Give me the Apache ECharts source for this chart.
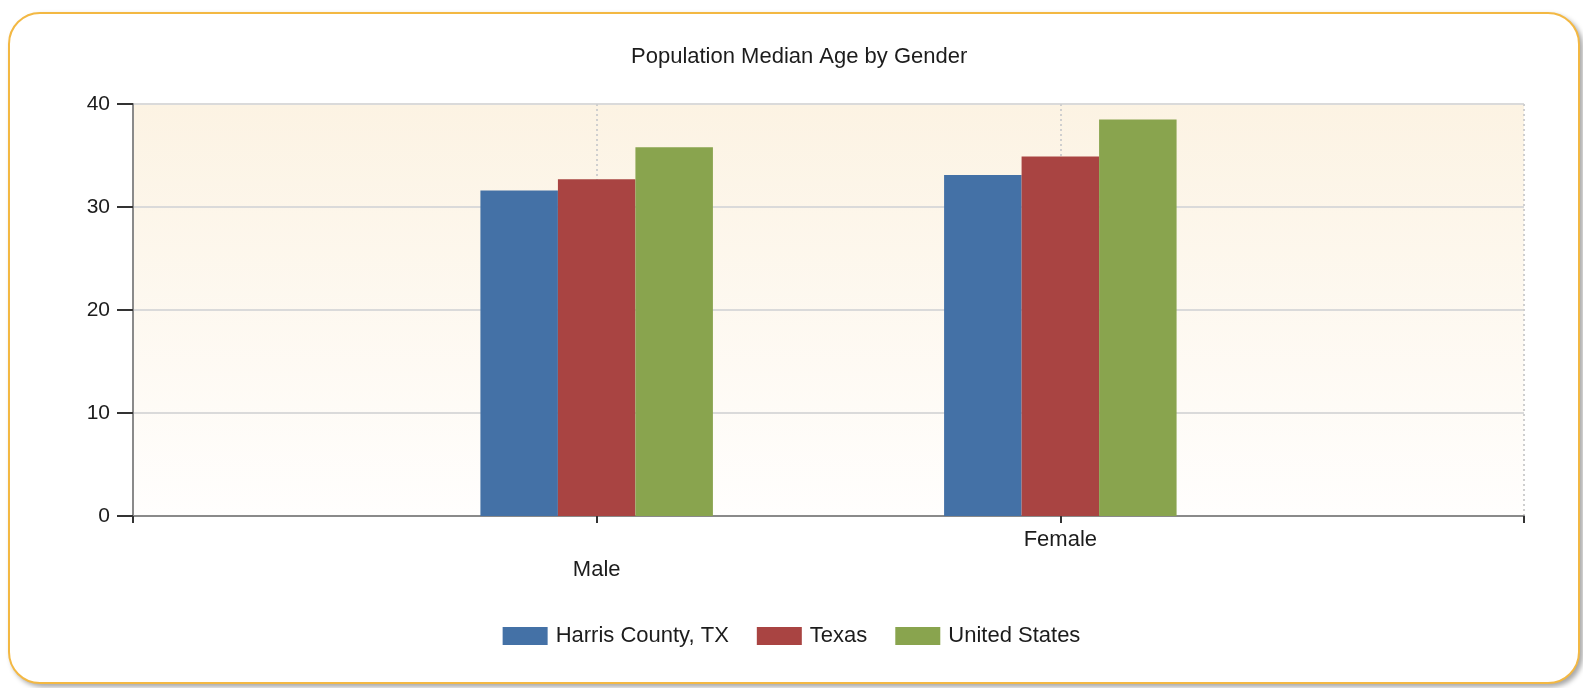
<!DOCTYPE html>
<html>
<head>
<meta charset="utf-8">
<title>Population Median Age by Gender</title>
<script src="https://cdn.jsdelivr.net/npm/echarts@6/dist/echarts.min.js"></script>
<style>
    html, body { margin: 0; padding: 0; background: #fff; }
    #card {
        position: absolute; left: 8px; top: 12px; width: 1568px; height: 668px;
        border: 2px solid #f3b843; border-radius: 32px; background: #fff;
        box-shadow: 3px 3px 5px rgba(0, 0, 0, 0.35);
    }
    #chart { position: absolute; left: 0; top: 0; width: 1583px; height: 688px; }
</style>
</head>
<body>
<div id="card"></div>
<div id="chart"></div>
<script>

// Chart data
// ------------------------------

var categories = ['Male', 'Female'];
var harrisCounty = [31.6, 33.1];
var texas = [32.7, 34.9];
var unitedStates = [35.8, 38.5];
var seriesNames = ['Harris County, TX', 'Texas', 'United States'];
var yTicks = [0, 10, 20, 30, 40];


// Setup chart
// ------------------------------

document.addEventListener('DOMContentLoaded', function() {

    var chart_element = document.getElementById('chart');
    var chart = echarts.init(chart_element, null, { renderer: 'canvas' });

    // Empty slots at both ends so the groups sit at 1/3 and 2/3 of the axis
    var axisData = [''].concat(categories, ['']);
    var pad = function(values) {
        return ['-'].concat(values, ['-']);
    };

    var textColor = '#1c1c1c';
    var fontFamily = '"Liberation Sans", Arial, sans-serif';

    var barSeries = function(name, values) {
        return {
            name: name,
            type: 'bar',
            data: pad(values),
            barWidth: 77.5,
            barGap: '0%'
        };
    };

    chart.setOption({
        animation: false,
        color: ['#4471a6', '#a94442', '#89a44e'],
        textStyle: { fontFamily: fontFamily, color: textColor },

        title: {
            text: 'Population Median Age by Gender',
            left: 626,
            top: 41,
            textStyle: { fontSize: 22, fontWeight: 'normal', color: textColor, fontFamily: fontFamily }
        },

        legend: {
            top: 620,
            left: 'center',
            icon: 'rect',
            itemWidth: 45,
            itemHeight: 18,
            itemGap: 28,
            selectedMode: false,
            data: seriesNames,
            textStyle: { fontSize: 22, color: textColor, padding: [0, 0, 0, 3] }
        },

        grid: {
            left: 133,
            right: 59,
            top: 104,
            bottom: 172,
            show: true,
            borderWidth: 0,
            backgroundColor: new echarts.graphic.LinearGradient(0, 0, 0, 1, [
                { offset: 0, color: '#fcf3e3' },
                { offset: 1, color: '#fffefd' }
            ])
        },

        xAxis: {
            type: 'category',
            data: axisData,
            boundaryGap: false,
            axisLine: { lineStyle: { color: '#8a8a8a', width: 2 } },
            axisTick: { interval: 0, length: 7, lineStyle: { color: '#333', width: 2 } },
            axisLabel: {
                interval: 0,
                margin: 13,
                fontSize: 22,
                color: textColor,
                formatter: function(value) {
                    // staggered labels: every other one drops down a row
                    var idx = categories.indexOf(value);
                    return idx % 2 === 0 ? '{low|' + value + '}' : value;
                },
                rich: {
                    low: { fontSize: 22, color: textColor, padding: [30, 0, 0, 0] }
                }
            },
            splitLine: {
                show: true,
                interval: 0,
                lineStyle: { color: '#cfcfcf', width: 2, type: [2, 3] }
            }
        },

        yAxis: {
            type: 'value',
            min: yTicks[0],
            max: yTicks[yTicks.length - 1],
            interval: 10,
            axisLine: { show: true, lineStyle: { color: '#8a8a8a', width: 2 } },
            axisTick: { show: true, length: 16, lineStyle: { color: '#333', width: 2 } },
            axisLabel: { margin: 23, fontSize: 21, color: textColor },
            splitLine: { lineStyle: { color: '#dadada', width: 2 } }
        },

        series: [
            barSeries(seriesNames[0], harrisCounty),
            barSeries(seriesNames[1], texas),
            barSeries(seriesNames[2], unitedStates)
        ]
    });

    window.addEventListener('resize', function() {
        chart.resize();
    });
});
</script>
</body>
</html>
